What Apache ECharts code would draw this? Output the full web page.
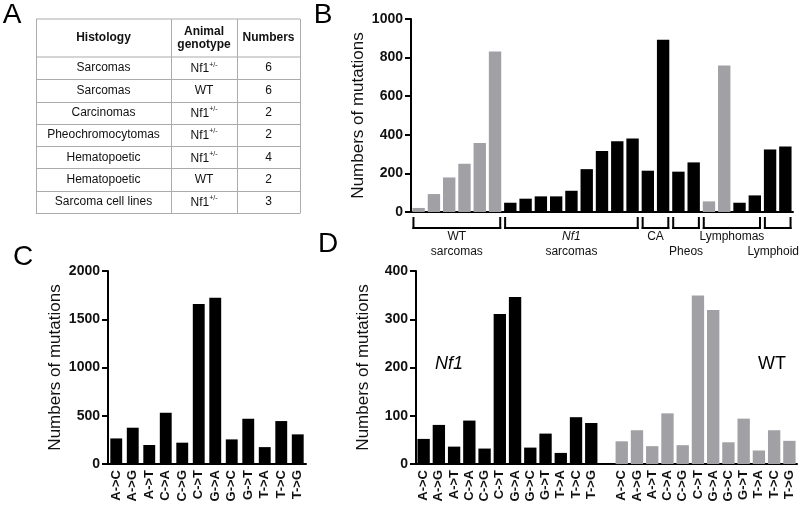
<!DOCTYPE html>
<html>
<head>
<meta charset="utf-8">
<script src="https://cdn.jsdelivr.net/npm/echarts@6/dist/echarts.min.js"></script>
<style>
html,body{margin:0;padding:0;background:#fff;}
#main{width:800px;height:508px;}
</style>
</head>
<body>
<div id="main"></div>
<script>
// ---------- Panel A table data ----------
const tableHeader = ['Histology', 'Animal\ngenotype', 'Numbers'];
const tableHistology = ['Sarcomas', 'Sarcomas', 'Carcinomas', 'Pheochromocytomas', 'Hematopoetic', 'Hematopoetic', 'Sarcoma cell lines'];
const tableGenotype = ['Nf1+/-', 'WT', 'Nf1+/-', 'Nf1+/-', 'Nf1+/-', 'WT', 'Nf1+/-'];
const tableNumbers = [6, 6, 2, 2, 4, 2, 3];

// ---------- Panel B data ----------
const bSamples = ['WT-1','WT-2','WT-3','WT-4','WT-5','WT-6',
  'Nf1-1','Nf1-2','Nf1-3','Nf1-4','Nf1-5','Nf1-6','Nf1-7','Nf1-8','Nf1-9',
  'CA-1','CA-2','Pheo-1','Pheo-2','Lym-1','Lym-2','Lym-3','Lym-4','Lymphoid-1','Lymphoid-2'];
const bGenotype = ['WT','WT','WT','WT','WT','WT',
  'Nf1','Nf1','Nf1','Nf1','Nf1','Nf1','Nf1','Nf1','Nf1',
  'Nf1','Nf1','Nf1','Nf1','WT','WT','Nf1','Nf1','Nf1','Nf1'];
const bValues = [21, 93, 179, 250, 357, 831,
  48, 69, 81, 81, 110, 222, 316, 367, 381,
  214, 893, 209, 257, 55, 759, 48, 86, 324, 340];
const bGroupNames = ['WT', 'Nf1', 'CA', 'Pheos', 'Lymphomas', 'Lymphoid'];
const bGroupSub = ['sarcomas', 'sarcomas', '', '', '', ''];
const bGroupSizes = [6, 9, 2, 2, 4, 2];
const bTicks = [0, 200, 400, 600, 800, 1000];

// ---------- Panel C data ----------
const mutTypes = ['A->C','A->G','A->T','C->A','C->G','C->T','G->A','G->C','G->T','T->A','T->C','T->G'];
const cValues = [265, 376, 197, 531, 221, 1659, 1724, 255, 469, 175, 445, 307];
const cTicks = [0, 500, 1000, 1500, 2000];

// ---------- Panel D data ----------
const dNf1 = [52, 81, 36, 90, 32, 311, 346, 34, 63, 23, 97, 85];
const dWT = [47, 70, 37, 105, 39, 349, 319, 45, 94, 28, 70, 48];
const dTicks = [0, 100, 200, 300, 400];

// ---------- styles ----------
const FONT = '"Liberation Sans", Arial, Helvetica, sans-serif';
const BLACK = '#000000';
const GREY = '#a1a1a5';
const TXT = '#111111';

const chart = echarts.init(document.getElementById('main'), null, {renderer: 'canvas'});

const dCats = mutTypes.concat([''], mutTypes);
const gap = mutTypes.length + 1;
const dNf1Data = dCats.map((c, i) => i < mutTypes.length ? dNf1[i] : null);
const dWTData = dCats.map((c, i) => i >= gap ? dWT[i - gap] : null);

function yAx(grid, max, interval) {
  return {
    gridIndex: grid, type: 'value', min: 0, max: max, interval: interval,
    name: 'Numbers of mutations', nameLocation: 'middle', nameGap: 44,
    nameTextStyle: {fontFamily: FONT, fontSize: 17, color: TXT},
    axisLine: {show: true, lineStyle: {color: BLACK, width: 2}},
    axisTick: {show: true, length: 6, lineStyle: {color: BLACK, width: 2}},
    axisLabel: {fontFamily: FONT, fontSize: 14, fontWeight: 'bold', color: TXT, margin: 8,
                formatter: v => String(v)},
    splitLine: {show: false}
  };
}
function xAx(grid, data, showLabels) {
  return {
    gridIndex: grid, type: 'category', data: data,
    axisLine: {show: true, lineStyle: {color: BLACK, width: 2}},
    axisTick: {show: false},
    axisLabel: showLabels ? {rotate: 90, interval: 0, fontFamily: FONT, fontSize: 13, fontWeight: 'bold', color: TXT, margin: 6} : {show: false},
    splitLine: {show: false}
  };
}

const option = {
  animation: false,
  backgroundColor: '#ffffff',
  grid: [
    {left: 411, right: 7, top: 19, bottom: 296},
    {left: 108, right: 494, top: 271, bottom: 44},
    {left: 416, right: 3, top: 271, bottom: 44}
  ],
  xAxis: [xAx(0, bSamples, false), xAx(1, mutTypes, true), xAx(2, dCats, true)],
  yAxis: [yAx(0, bTicks[bTicks.length - 1], bTicks[1] - bTicks[0]),
          yAx(1, cTicks[cTicks.length - 1], cTicks[1] - cTicks[0]),
          yAx(2, dTicks[dTicks.length - 1], dTicks[1] - dTicks[0])],
  series: [
    {type: 'bar', xAxisIndex: 0, yAxisIndex: 0, barCategoryGap: '19%',
     data: bValues.map((v, i) => ({value: v, itemStyle: {color: bGenotype[i] === 'WT' ? GREY : BLACK}}))},
    {type: 'bar', xAxisIndex: 1, yAxisIndex: 1, barCategoryGap: '28%', itemStyle: {color: BLACK}, data: cValues},
    {type: 'bar', xAxisIndex: 2, yAxisIndex: 2, barCategoryGap: '19%', barGap: '-100%', itemStyle: {color: BLACK}, data: dNf1Data},
    {type: 'bar', xAxisIndex: 2, yAxisIndex: 2, barCategoryGap: '19%', barGap: '-100%', itemStyle: {color: GREY}, data: dWTData}
  ]
};
chart.setOption(option);

// ---------- graphics: table, letters, brackets ----------
const g = [];
function txt(x, y, text, opts) {
  g.push({type: 'text', silent: true, style: Object.assign({
    x: x, y: y, text: text, fill: TXT, font: '12px ' + FONT,
    textAlign: 'center', textVerticalAlign: 'middle'
  }, opts || {})});
}
function ln(x1, y1, x2, y2, stroke, w) {
  g.push({type: 'line', silent: true, shape: {x1: x1, y1: y1, x2: x2, y2: y2},
          style: {stroke: stroke, lineWidth: w}});
}

// Panel letters
txt(12, 15, 'A', {font: '28px ' + FONT, fill: BLACK});
txt(323, 15, 'B', {font: '28px ' + FONT, fill: BLACK});
txt(23, 257, 'C', {font: '28px ' + FONT, fill: BLACK});
txt(328, 244, 'D', {font: '28px ' + FONT, fill: BLACK});

// Table
const colX = [36, 171, 237, 300];
const headTop = 19, headBot = 57;
const rowH = (213 - headBot) / tableHistology.length;
const tcol = '#ababab';
ln(colX[0], headTop, colX[3], headTop, tcol, 1);
ln(colX[0], headBot, colX[3], headBot, tcol, 1);
for (let i = 1; i <= tableHistology.length; i++) {
  const y = Math.round(headBot + i * rowH) + 0.5;
  ln(colX[0], y, colX[3], y, tcol, 1);
}
colX.forEach(x => ln(x + 0.5, headTop, x + 0.5, 213.5, tcol, 1));
tableHeader.forEach((h, j) => {
  txt((colX[j] + colX[j + 1]) / 2, (headTop + headBot) / 2, h,
      {font: 'bold 12px ' + FONT, lineHeight: 13});
});
tableHistology.forEach((h, i) => {
  const cy = headBot + (i + 0.5) * rowH;
  txt((colX[0] + colX[1]) / 2, cy, h);
  const gt = tableGenotype[i];
  const m = gt.match(/^(.*?)(\+\/-)$/);
  if (m) {
    txt((colX[1] + colX[2]) / 2, cy, '{n|' + m[1] + '}{s|' + m[2] + '}', {
      rich: {
        n: {fontFamily: FONT, fontSize: 12, fill: TXT, lineHeight: 14, verticalAlign: 'bottom'},
        s: {fontFamily: FONT, fontSize: 7, fill: TXT, lineHeight: 14, verticalAlign: 'top'}
      }
    });
  } else {
    txt((colX[1] + colX[2]) / 2, cy, gt);
  }
  txt((colX[2] + colX[3]) / 2, cy, String(tableNumbers[i]));
});

// Brackets under panel B
const p0 = chart.convertToPixel({gridIndex: 0}, [0, 0]);
const p1 = chart.convertToPixel({gridIndex: 0}, [1, 0]);
const band = p1[0] - p0[0];
const barW = band * (1 - 0.19);
const brY = p0[1] + 16, brTop = p0[1] + 5;
const rowY1 = p0[1] + 25, rowY2 = p0[1] + 40;
const rowOf = [1, 1, 1, 2, 1, 2];
const mctx = document.createElement('canvas').getContext('2d');
mctx.font = '12px ' + FONT;
let start = 0;
bGroupSizes.forEach((n, k) => {
  const a = chart.convertToPixel({gridIndex: 0}, [start, 0])[0] - barW / 2;
  const b = chart.convertToPixel({gridIndex: 0}, [start + n - 1, 0])[0] + barW / 2;
  ln(a, brY, b, brY, BLACK, 2);
  ln(a + 1, brTop, a + 1, brY + 1, BLACK, 2);
  ln(b - 1, brTop, b - 1, brY + 1, BLACK, 2);
  let cx = (a + b) / 2;
  const name = bGroupNames[k];
  const w = mctx.measureText(name).width;
  let align = 'center';
  if (cx + w / 2 > 799) { cx = 799; align = 'right'; }
  const y = rowOf[k] === 1 ? rowY1 : rowY2;
  txt(cx, y, name, {textAlign: align, font: (name === 'Nf1' ? 'italic ' : '') + '12px ' + FONT});
  if (bGroupSub[k]) txt((a + b) / 2, rowY2, bGroupSub[k], {font: '12px ' + FONT});
  start += n;
});

// Panel D group labels
txt(449, 364, 'Nf1', {font: 'italic 18px ' + FONT, fill: BLACK});
txt(772, 364, 'WT', {font: '18px ' + FONT, fill: BLACK});

chart.setOption({graphic: {elements: g}});
</script>
</body>
</html>
